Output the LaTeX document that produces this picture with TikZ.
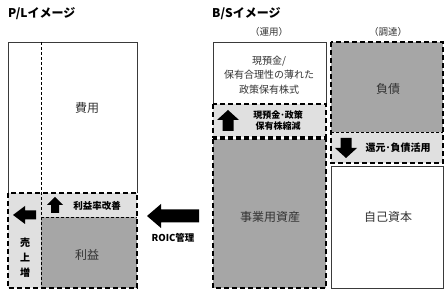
\documentclass[tikz,border=0pt]{standalone}
\usepackage{fontspec}
\setmainfont{Noto Sans CJK JP}
\newfontfamily\jp{Noto Sans CJK JP}
\definecolor{boxgray}{HTML}{A6A6A6}
\definecolor{bandgray}{HTML}{E0E0E0}
\definecolor{linegray}{HTML}{3A3A3A}
\definecolor{txt}{HTML}{333333}
\tikzset{
  solidbox/.style={draw=linegray, line width=0.9pt},
  thickdash/.style={draw=black, line width=2pt, dash pattern=on 5pt off 3pt},
  thindash/.style={draw=black, line width=0.8pt, dash pattern=on 3pt off 2pt},
  lbl/.style={text=txt, font=\jp\fontsize{12}{14}\selectfont, inner sep=0pt, align=center},
  slbl/.style={text=black, font=\jp\bfseries\fontsize{9.5}{11}\selectfont, inner sep=0pt, align=center},
  ttl/.style={text=black, font=\jp\bfseries\fontsize{12}{14}\selectfont, inner sep=0pt, anchor=west},
  blk/.style={fill=black},
}
\begin{document}
\begin{tikzpicture}[x=1pt,y=-1pt]
\useasboundingbox (0,0) rectangle (445,291);
% titles
\node[ttl] (pltitle) at (8,14) {P/Lイメージ};
\node[ttl] (bstitle) at (212,14) {B/Sイメージ};
\node[lbl, font=\jp\fontsize{9.5}{11}\selectfont] (unyo) at (269,32) {（運用）};
\node[lbl, font=\jp\fontsize{9.5}{11}\selectfont] (chotatsu) at (388,32) {（調達）};

% ---------- P/L ----------
\fill[white] (8,42) rectangle (137,193);
\fill[bandgray] (8,193) rectangle (137,288);
\fill[boxgray] (41,217) rectangle (137,288);
\draw[solidbox] (8,193) -- (8,42) -- (137,42) -- (137,193);
\draw[thindash] (41,42) -- (41,288);
\draw[thindash] (41,217) -- (137,217);
\draw[thickdash] (8,193) rectangle (137,288);
\node[lbl] (hiyo) at (87,108) {費用};
\node[lbl] (rieki) at (87,255) {利益};
\node[slbl] (riekiritsu) at (97,206) {利益率改善};
\node[slbl, font=\jp\bfseries\fontsize{10}{15}\selectfont] (uriage) at (25,258) {売\\上\\増};
% left arrow in 売上増
\fill[blk] (13,215) -- (25,206) -- (25,210.5) -- (36,210.5) -- (36,219.5) -- (25,219.5) -- (25,224) -- cycle;
% up arrow 利益率改善
\fill[blk] (55,197) -- (63,205) -- (59,205) -- (59,213) -- (51,213) -- (51,205) -- (47,205) -- cycle;

% ---------- ROIC ----------
\fill[blk] (147,216) -- (161,204) -- (161,209.5) -- (199,209.5) -- (199,222.5) -- (161,222.5) -- (161,228) -- cycle;
\node[slbl, font=\jp\bfseries\fontsize{9.5}{11}\selectfont] (roic) at (173,238) {ROIC管理};

% ---------- B/S left ----------
\fill[white] (213,42) rectangle (326,104);
\draw[solidbox] (213,104) -- (213,42) -- (326,42) -- (326,104);
\fill[bandgray] (213,104) rectangle (326,137);
\fill[boxgray] (213,139) rectangle (326,288);
\draw[thickdash] (213,104) rectangle (326,137);
\draw[thickdash] (213,139) rectangle (326,288);
\node[lbl, font=\jp\fontsize{10}{14.5}\selectfont] (genyokin) at (269,75) {現預金/\\保有合理性の薄れた\\政策保有株式};
\node[slbl, font=\jp\bfseries\fontsize{9}{11}\selectfont] (shukugen) at (278,120.5) {現預金･政策\\保有株縮減};
\fill[blk] (228,110) -- (239,120) -- (233.5,120) -- (233.5,131) -- (222.5,131) -- (222.5,120) -- (217,120) -- cycle;
\node[lbl] (jigyo) at (270,217) {事業用資産};

% ---------- B/S right ----------
\fill[boxgray] (331,42) rectangle (443,132);
\fill[bandgray] (331,132) rectangle (443,163);
\draw[thindash] (331,132) -- (443,132);
\draw[thickdash] (331,42) rectangle (443,163);
\node[lbl] (fusai) at (388,89) {負債};
\node[slbl, font=\jp\bfseries\fontsize{10}{11}\selectfont] (kangen) at (398,147.5) {還元･負債活用};
\fill[blk] (346,158) -- (357,148) -- (351.5,148) -- (351.5,138) -- (340.5,138) -- (340.5,148) -- (335,148) -- cycle;
\fill[white] (331,166) rectangle (443,288);
\draw[solidbox] (331,166) rectangle (443,288);
\node[lbl] (jiko) at (388,217) {自己資本};
\end{tikzpicture}
\end{document}
